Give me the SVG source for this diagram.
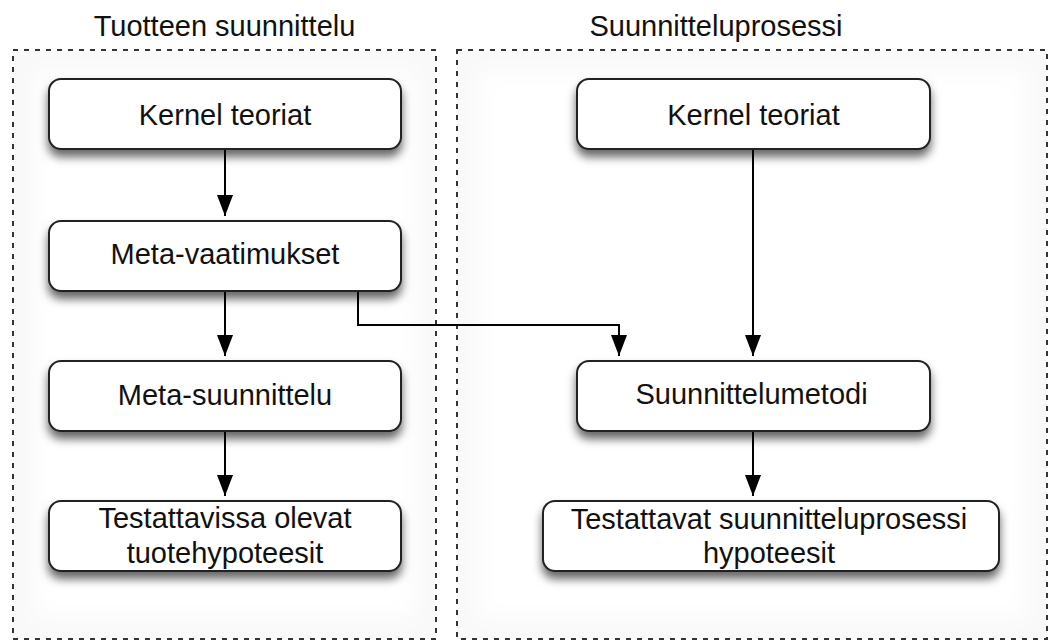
<svg xmlns="http://www.w3.org/2000/svg" width="1049" height="641" viewBox="0 0 1049 641">
  <style>
    .title { font-family: "Liberation Sans", Arial, Helvetica, sans-serif; font-size: 29px; fill: #111; text-anchor: middle; }
    .label { font-family: "Liberation Sans", Arial, Helvetica, sans-serif; font-size: 29px; fill: #111; text-anchor: middle; }
    .frame { fill: #f9f9f9; stroke: #333; stroke-width: 2; stroke-dasharray: 5 6; }
    .glow { fill: #ffffff; }
    .box { fill: #ffffff; stroke: #222; stroke-width: 2; filter: url(#shadow); }
    .wire { fill: none; stroke: #000; stroke-width: 2; marker-end: url(#arrow); }
  </style>
  <defs>
    <filter id="shadow" x="-20%" y="-30%" width="140%" height="180%">
      <feDropShadow dx="0" dy="7" stdDeviation="5" flood-color="#000" flood-opacity="0.6"/>
    </filter>
    <filter id="soft" x="-10%" y="-10%" width="120%" height="120%">
      <feGaussianBlur stdDeviation="10"/>
    </filter>
    <marker id="arrow" viewBox="0 -8 21 16" refX="21" refY="0" markerWidth="21" markerHeight="16" markerUnits="userSpaceOnUse" orient="auto">
      <path d="M0,-8 L21,0 L0,8 z" fill="#000"/>
    </marker>
  </defs>

  <rect width="1049" height="641" fill="#ffffff"/>

  <!-- groups -->
  <g id="group-tuotteen">
    <rect class="frame" x="13" y="50" width="423" height="589"/>
    <rect class="glow" x="36" y="72" width="378" height="546" filter="url(#soft)"/>
    <text class="title" x="224.5" y="36">Tuotteen suunnittelu</text>
  </g>
  <g id="group-prosessi">
    <rect class="frame" x="457" y="50" width="590" height="589"/>
    <rect class="glow" x="480" y="72" width="545" height="546" filter="url(#soft)"/>
    <text class="title" x="716" y="36">Suunnitteluprosessi</text>
  </g>

  <!-- connectors -->
  <g id="connectors">
    <path class="wire" d="M225,149 V216"/>
    <path class="wire" d="M225,291 V356"/>
    <path class="wire" d="M225,431 V496"/>
    <path class="wire" d="M358,291 V325 H619 V356"/>
    <path class="wire" d="M753,149 V356"/>
    <path class="wire" d="M753,431 V496"/>
  </g>

  <!-- left column -->
  <g id="kernel-teoriat-1">
    <rect class="box" x="49" y="79" width="352" height="70" rx="12"/>
    <text class="label" x="225" y="125">Kernel teoriat</text>
  </g>
  <g id="meta-vaatimukset">
    <rect class="box" x="49" y="221" width="352" height="70" rx="12"/>
    <text class="label" x="225" y="264">Meta-vaatimukset</text>
  </g>
  <g id="meta-suunnittelu">
    <rect class="box" x="49" y="361" width="352" height="70" rx="12"/>
    <text class="label" x="225" y="405">Meta-suunnittelu</text>
  </g>
  <g id="tuotehypoteesit">
    <rect class="box" x="49" y="501" width="352" height="70" rx="12"/>
    <text class="label" x="225" y="528">Testattavissa olevat</text>
    <text class="label" x="225" y="563">tuotehypoteesit</text>
  </g>

  <!-- right column -->
  <g id="kernel-teoriat-2">
    <rect class="box" x="577" y="79" width="353" height="70" rx="12"/>
    <text class="label" x="753.5" y="125">Kernel teoriat</text>
  </g>
  <g id="suunnittelumetodi">
    <rect class="box" x="577" y="361" width="353" height="70" rx="12"/>
    <text class="label" x="751.5" y="404">Suunnittelumetodi</text>
  </g>
  <g id="prosessihypoteesit">
    <rect class="box" x="543" y="501" width="456" height="70" rx="12"/>
    <text class="label" x="769" y="529">Testattavat suunnitteluprosessi</text>
    <text class="label" x="769" y="563">hypoteesit</text>
  </g>
</svg>
